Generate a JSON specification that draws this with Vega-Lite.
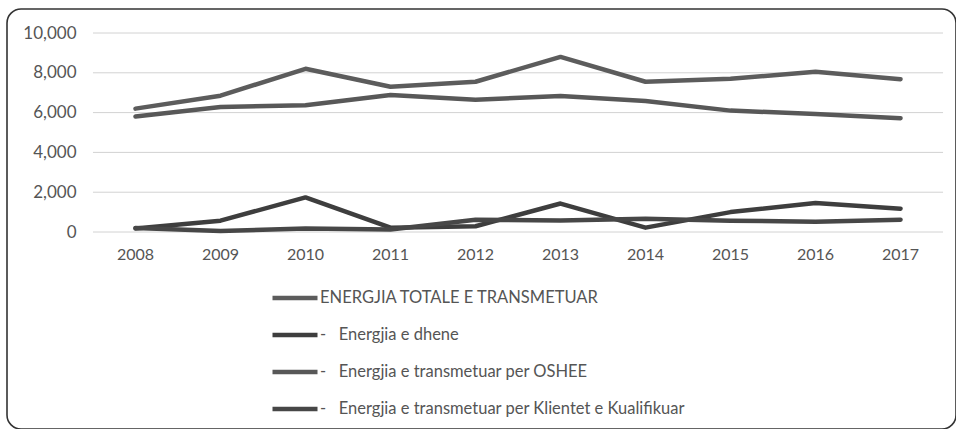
{
  "$schema": "https://vega.github.io/schema/vega-lite/v6.json",
  "width": 949,
  "height": 420,
  "autosize": {"type": "none"},
  "padding": {"left": 7, "top": 9, "right": 0, "bottom": 0},
  "background": "white",
  "config": {
    "view": {"stroke": "#333333", "strokeWidth": 1.6, "cornerRadius": 14},
    "font": "Lato",
    "axisX": {"title": null, "orient": "bottom", "offset": -197, "domain": false, "ticks": false,
              "labelAngle": 0, "labelPadding": 14, "labelFontSize": 16, "labelColor": "#555555",
              "labelFont": "Lato", "grid": false},
    "axisY": {"title": null, "orient": "left", "offset": -71, "domain": false, "ticks": false,
              "grid": false, "labelPadding": 2, "labelFontSize": 17, "labelColor": "#555555", "labelFont": "Lato"}
  },
  "datasets": {
    "energy": [
      {"year": "2008", "series": "ENERGJIA TOTALE E TRANSMETUAR", "value": 6200},
      {"year": "2009", "series": "ENERGJIA TOTALE E TRANSMETUAR", "value": 6850},
      {"year": "2010", "series": "ENERGJIA TOTALE E TRANSMETUAR", "value": 8200},
      {"year": "2011", "series": "ENERGJIA TOTALE E TRANSMETUAR", "value": 7300},
      {"year": "2012", "series": "ENERGJIA TOTALE E TRANSMETUAR", "value": 7550},
      {"year": "2013", "series": "ENERGJIA TOTALE E TRANSMETUAR", "value": 8800},
      {"year": "2014", "series": "ENERGJIA TOTALE E TRANSMETUAR", "value": 7550},
      {"year": "2015", "series": "ENERGJIA TOTALE E TRANSMETUAR", "value": 7700},
      {"year": "2016", "series": "ENERGJIA TOTALE E TRANSMETUAR", "value": 8050},
      {"year": "2017", "series": "ENERGJIA TOTALE E TRANSMETUAR", "value": 7680},
      {"year": "2008", "series": "Energjia e dhene", "value": 180},
      {"year": "2009", "series": "Energjia e dhene", "value": 570},
      {"year": "2010", "series": "Energjia e dhene", "value": 1740},
      {"year": "2011", "series": "Energjia e dhene", "value": 220},
      {"year": "2012", "series": "Energjia e dhene", "value": 290},
      {"year": "2013", "series": "Energjia e dhene", "value": 1430},
      {"year": "2014", "series": "Energjia e dhene", "value": 220},
      {"year": "2015", "series": "Energjia e dhene", "value": 1000},
      {"year": "2016", "series": "Energjia e dhene", "value": 1460},
      {"year": "2017", "series": "Energjia e dhene", "value": 1170},
      {"year": "2008", "series": "Energjia e transmetuar per OSHEE", "value": 5800},
      {"year": "2009", "series": "Energjia e transmetuar per OSHEE", "value": 6280},
      {"year": "2010", "series": "Energjia e transmetuar per OSHEE", "value": 6370},
      {"year": "2011", "series": "Energjia e transmetuar per OSHEE", "value": 6880},
      {"year": "2012", "series": "Energjia e transmetuar per OSHEE", "value": 6650},
      {"year": "2013", "series": "Energjia e transmetuar per OSHEE", "value": 6830},
      {"year": "2014", "series": "Energjia e transmetuar per OSHEE", "value": 6580},
      {"year": "2015", "series": "Energjia e transmetuar per OSHEE", "value": 6100},
      {"year": "2016", "series": "Energjia e transmetuar per OSHEE", "value": 5930},
      {"year": "2017", "series": "Energjia e transmetuar per OSHEE", "value": 5720},
      {"year": "2008", "series": "Energjia e transmetuar per Klientet e Kualifikuar", "value": 200},
      {"year": "2009", "series": "Energjia e transmetuar per Klientet e Kualifikuar", "value": 50},
      {"year": "2010", "series": "Energjia e transmetuar per Klientet e Kualifikuar", "value": 170},
      {"year": "2011", "series": "Energjia e transmetuar per Klientet e Kualifikuar", "value": 130},
      {"year": "2012", "series": "Energjia e transmetuar per Klientet e Kualifikuar", "value": 620},
      {"year": "2013", "series": "Energjia e transmetuar per Klientet e Kualifikuar", "value": 580},
      {"year": "2014", "series": "Energjia e transmetuar per Klientet e Kualifikuar", "value": 660},
      {"year": "2015", "series": "Energjia e transmetuar per Klientet e Kualifikuar", "value": 570},
      {"year": "2016", "series": "Energjia e transmetuar per Klientet e Kualifikuar", "value": 520},
      {"year": "2017", "series": "Energjia e transmetuar per Klientet e Kualifikuar", "value": 620}
    ],
    "grid": [{"v": 0}, {"v": 2000}, {"v": 4000}, {"v": 6000}, {"v": 8000}, {"v": 10000}]
  },
  "layer": [
    {
      "data": {"name": "grid"},
      "mark": {"type": "rule", "color": "#d2d2d2", "strokeWidth": 1},
      "encoding": {
        "y": {"field": "v", "type": "quantitative",
              "scale": {"domain": [-9899, 11206], "nice": false, "zero": false},
              "axis": {"values": [0, 2000, 4000, 6000, 8000, 10000], "format": ",.0f"}},
        "x": {"datum": "2008", "type": "ordinal", "bandPosition": 0,
              "scale": {"type": "band", "paddingInner": 0, "paddingOuter": 0.582, "align": 0.869}},
        "x2": {"datum": "2017", "bandPosition": 1}
      }
    },
    {
      "data": {"name": "energy"},
      "mark": {"type": "line", "strokeWidth": 4.5, "strokeJoin": "round", "strokeCap": "round"},
      "encoding": {
        "x": {"field": "year", "type": "ordinal", "bandPosition": 0.5,
              "scale": {"type": "band", "paddingInner": 0, "paddingOuter": 0.582, "align": 0.869}},
        "y": {"field": "value", "type": "quantitative",
              "scale": {"domain": [-9899, 11206], "nice": false, "zero": false},
              "axis": {"values": [0, 2000, 4000, 6000, 8000, 10000], "format": ",.0f"}},
        "color": {"field": "series", "type": "nominal",
                  "scale": {"domain": ["ENERGJIA TOTALE E TRANSMETUAR", "Energjia e dhene", "Energjia e transmetuar per OSHEE", "Energjia e transmetuar per Klientet e Kualifikuar"],
                            "range": ["#5c5c5c", "#3e3e3e", "#585858", "#474747"]},
                  "legend": {"title": null, "orient": "none", "legendX": 263, "legendY": 264, "direction": "vertical",
                             "symbolType": "stroke", "symbolSize": 2025, "symbolStrokeWidth": 4.5,
                             "labelFontSize": 16.5, "labelFont": "Lato", "labelColor": "#555555",
                             "labelOffset": 0, "rowPadding": 3, "padding": 0, "labelLimit": 700,
                             "labelExpr": "datum.label == 'ENERGJIA TOTALE E TRANSMETUAR' ? datum.label : '-\u00a0\u00a0\u00a0' + datum.label"}}
      }
    }
  ]
}
